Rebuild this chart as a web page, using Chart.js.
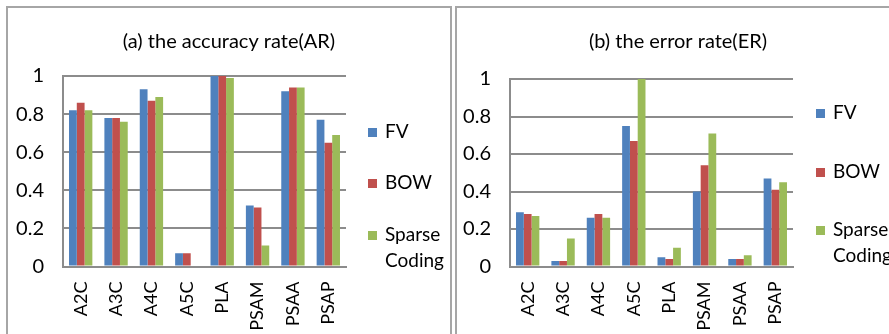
<!DOCTYPE html>
<html lang="en">
<head>
    <meta charset="UTF-8">
    <title>AR / ER comparison</title>
    <script src="https://cdn.jsdelivr.net/npm/chart.js"></script>
    <style>
        html, body { margin: 0; padding: 0; background: #fff; overflow: hidden; }
        body { width: 889px; height: 334px; position: relative; }
        .panel { position: absolute; top: 6px; width: 442px; height: 400px; border: 2px solid #a6a6a6; }
        .panel canvas { position: absolute; left: 0; top: 0; }
    </style>
</head>
<body>
    <div class="panel" style="left: 6px;"><canvas id="arChart" width="442" height="326"></canvas></div>
    <div class="panel" style="left: 455px;"><canvas id="erChart" width="442" height="326"></canvas></div>

    <script>
        const categories = ['A2C', 'A3C', 'A4C', 'A5C', 'PLA', 'PSAM', 'PSAA', 'PSAP'];
        const seriesNames = ['FV', 'BOW', 'Sparse\nCoding'];
        const seriesColors = ['#4f81bd', '#c0504d', '#9bbb59'];

        // (a) accuracy rate
        const arFV  = [0.82, 0.78, 0.93, 0.07, 1.00, 0.32, 0.92, 0.77];
        const arBOW = [0.86, 0.78, 0.87, 0.07, 1.00, 0.31, 0.94, 0.65];
        const arSC  = [0.82, 0.76, 0.89, 0.00, 0.99, 0.11, 0.94, 0.69];

        // (b) error rate
        const erFV  = [0.29, 0.03, 0.26, 0.75, 0.05, 0.40, 0.04, 0.47];
        const erBOW = [0.28, 0.03, 0.28, 0.67, 0.04, 0.54, 0.04, 0.41];
        const erSC  = [0.27, 0.15, 0.26, 1.00, 0.10, 0.71, 0.06, 0.45];

        const yTicks = [0, 0.2, 0.4, 0.6, 0.8, 1];

        const FONT = 'Lato, "Open Sans", sans-serif';
        const GRID = '#8c8c8c';

        // title + legend drawn by hand (legend entry wraps onto two lines)
        const panelDeco = {
            id: 'panelDeco',
            afterDraw(chart, args, opts) {
                const ctx = chart.ctx;
                ctx.save();
                ctx.fillStyle = '#000';
                ctx.font = '20px ' + FONT;
                ctx.textAlign = 'center';
                ctx.textBaseline = 'middle';
                ctx.fillText(opts.title, chart.width / 2, opts.titleY);

                ctx.font = '19px ' + FONT;
                ctx.textAlign = 'left';
                chart.data.datasets.forEach((ds, i) => {
                    let y = opts.legendY[i];
                    ctx.fillStyle = ds.backgroundColor;
                    ctx.fillRect(opts.legendX, y - 4, 9, 9);
                    ctx.fillStyle = '#000';
                    ds.label.split('\n').forEach((line, j) => {
                        ctx.fillText(line, opts.legendX + 17, y + j * 26);
                    });
                });
                ctx.restore();
            }
        };

        function makeChart(id, values, title, deco, area) {
            let ctx = document.getElementById(id).getContext('2d');
            return new Chart(ctx, {
                type: 'bar',
                data: {
                    labels: categories,
                    datasets: values.map((v, i) => ({
                        label: seriesNames[i],
                        data: v,
                        backgroundColor: seriesColors[i],
                        borderWidth: 0,
                        categoryPercentage: 0.66,
                        barPercentage: 1.0
                    }))
                },
                options: {
                    responsive: false,
                    animation: false,
                    devicePixelRatio: 1,
                    layout: { padding: { left: 0, right: 442 - area.right, top: area.top, bottom: 0 } },
                    plugins: {
                        legend: { display: false },
                        tooltip: { enabled: false },
                        panelDeco: Object.assign({ title: title }, deco)
                    },
                    scales: {
                        x: {
                            grid: { display: false, drawTicks: false },
                            border: { display: true, color: GRID, width: 2 },
                            ticks: {
                                color: '#000',
                                font: { family: FONT, size: 18 },
                                minRotation: 90,
                                maxRotation: 90,
                                padding: 15,
                                autoSkip: false
                            },
                            afterFit(scale) { scale.height = 326 - area.bottom; }
                        },
                        y: {
                            min: 0,
                            max: 1,
                            afterBuildTicks(scale) { scale.ticks = yTicks.map(v => ({ value: v })); },
                            grid: { color: GRID, lineWidth: 2, drawTicks: false },
                            border: { display: true, color: GRID, width: 2 },
                            ticks: {
                                color: '#000',
                                font: { family: FONT, size: 20 },
                                padding: 19,
                                callback: v => String(v)
                            },
                            afterFit(scale) { scale.width = area.left; }
                        }
                    }
                },
                plugins: [panelDeco]
            });
        }

        makeChart('arChart', [arFV, arBOW, arSC], '(a) the accuracy rate(AR)',
            { titleY: 34, legendX: 360, legendY: [124, 175, 227] },
            { left: 55, right: 338, top: 68, bottom: 258.5 });

        makeChart('erChart', [erFV, erBOW, erSC], '(b) the error rate(ER)',
            { titleY: 34, legendX: 359, legendY: [105, 164, 222] },
            { left: 53, right: 336, top: 71, bottom: 258.5 });
    </script>
</body>
</html>
